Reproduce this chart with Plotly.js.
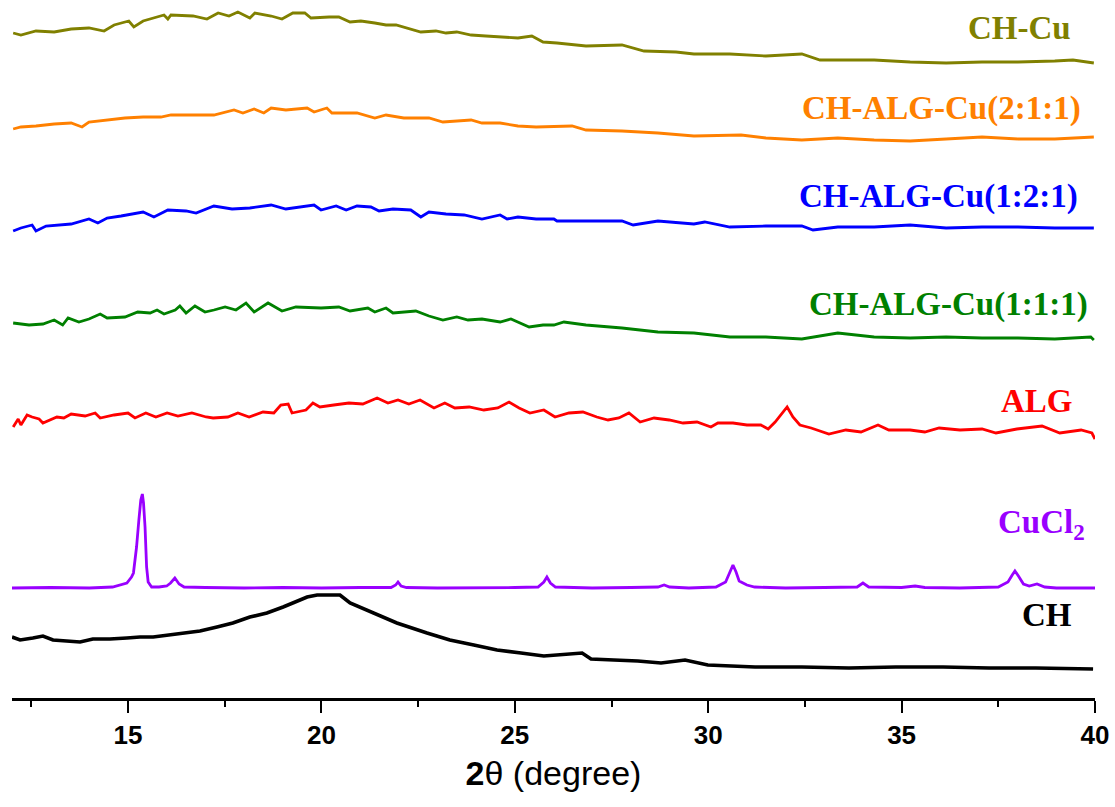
<!DOCTYPE html>
<html>
<head>
<meta charset="utf-8">
<script src="https://cdn.plot.ly/plotly-3.0.1.min.js"></script>
<style>html,body{margin:0;padding:0;background:#fff;}#chart{width:1115px;height:807px;}</style>
</head>
<body>
<div id="chart"></div>
<script>
// Stacked XRD patterns: 2θ (degree) vs. offset intensity (a.u.)
const seriesNames = ["CH-Cu", "CH-ALG-Cu(2:1:1)", "CH-ALG-Cu(1:2:1)", "CH-ALG-Cu(1:1:1)", "ALG", "CuCl<sub>2</sub>", "CH"];
const seriesColors = ["#808000", "#ff8000", "#0000ff", "#008000", "#ff0000", "#9900ff", "#000000"];

const chCu_x = [12.03,12.23,12.62,13.09,13.53,13.99,14.38,14.64,15.02,15.15,15.39,15.75,15.93,16.03,16.11,16.68,17.04,17.33,17.61,17.84,18.15,18.28,18.70,18.98,19.26,19.57,19.73,20.20,20.45,20.74,21.02,21.38,21.67,21.93,22.21,22.57,22.96,23.22,23.50,23.87,24.25,24.62,25.08,25.44,25.73,26.09,26.84,27.77,28.34,29.17,29.63,30.56,31.49,32.42,32.89,33.35,34.29,35.22,36.15,37.08,38.01,38.96,39.43,39.97];
const chCu_y = [665,663,667,666,669,670,667,673,677,671,677,681,683,679,683,682,679,685,682,686,680,685,682,679,685,685,680,681,681,676,677,675,673,673,670,666,667,665,666,663,662,661,660,662,656,655,652,653,647,646,644,644,642,644,638,638,638,636,635,636,636,637,638,635];

const c211_x = [12.03,12.23,12.62,13.09,13.53,13.81,13.99,14.46,14.92,15.39,15.85,16.11,16.76,17.22,17.74,17.97,18.26,18.51,18.70,19.08,19.63,19.81,20.14,20.27,20.92,21.38,21.67,22.13,22.78,23.14,23.87,24.15,24.62,25.08,25.55,26.09,26.48,26.84,27.77,28.70,29.63,30.85,31.49,32.42,33.35,34.29,35.22,36.15,37.08,38.01,38.96,39.97];
const c211_y = [569,571,572,574,575,571,576,578,580,581,581,583,583,583,588,585,589,585,590,588,590,586,590,585,585,580,583,580,580,576,578,575,575,572,571,572,572,568,567,565,562,563,560,558,560,558,557,559,561,559,559,561];

const c121_x = [12.03,12.23,12.52,12.62,12.88,13.53,13.99,14.22,14.46,14.82,15.39,15.67,16.03,16.50,16.76,17.22,17.69,18.15,18.70,19.08,19.81,19.99,20.38,20.64,20.92,21.28,21.49,21.85,22.31,22.57,22.78,23.22,23.69,24.15,24.62,24.80,25.08,25.55,26.01,26.09,26.84,27.77,28.06,28.70,29.63,29.91,30.56,31.49,32.42,32.71,33.35,34.29,35.22,36.15,37.08,38.01,38.96,39.97];
const c121_y = [467,470,473,467,472,474,479,475,480,482,486,481,488,487,485,492,489,490,493,489,493,488,492,488,492,491,487,489,488,481,486,484,483,479,483,479,481,479,479,477,477,477,473,477,474,476,471,472,472,468,471,471,473,470,471,471,470,470];

const c111_x = [12.03,12.44,12.80,13.09,13.31,13.45,13.73,13.99,14.28,14.46,14.92,15.25,15.57,15.75,15.93,16.22,16.34,16.50,16.73,16.99,17.22,17.51,17.79,18.05,18.26,18.62,18.98,19.34,19.99,20.45,20.74,21.20,21.38,21.67,21.85,22.44,22.78,23.14,23.50,23.79,24.15,24.62,24.90,25.37,25.73,26.01,26.27,26.84,27.77,28.70,29.63,30.56,31.49,32.42,33.35,34.29,35.22,36.15,37.08,38.01,38.96,39.89,39.97];
const c111_y = [375,373,374,378,373,380,376,379,384,380,381,386,385,388,384,388,392,385,392,386,388,391,388,395,386,395,387,391,390,391,387,390,386,390,385,387,382,378,381,378,379,376,379,371,373,373,376,373,370,366,365,361,361,359,365,361,360,361,360,360,359,361,358];

const alg_x = [12.03,12.16,12.23,12.39,12.52,12.70,12.80,12.98,13.16,13.34,13.53,13.89,14.15,14.28,14.64,15.00,15.18,15.46,15.72,16.01,16.29,16.65,17.02,17.20,17.58,17.84,18.13,18.49,18.77,18.95,19.14,19.24,19.60,19.78,19.96,20.32,20.71,21.07,21.44,21.72,21.98,22.26,22.55,22.91,23.19,23.45,23.82,24.20,24.56,24.85,25.11,25.39,25.75,26.04,26.40,26.76,27.12,27.41,27.69,27.95,28.24,28.60,28.99,29.35,29.71,30.07,30.25,30.64,31.00,31.36,31.55,31.73,31.91,32.04,32.19,32.37,32.66,33.12,33.56,33.95,34.39,34.67,35.22,35.60,35.97,36.51,37.08,37.44,37.98,38.63,39.09,39.64,39.92,40.00];
const alg_y = [271,279,273,283,281,279,275,278,281,280,284,282,285,280,283,285,280,285,281,285,282,285,281,280,281,285,281,286,285,293,294,285,288,295,291,293,295,294,300,295,298,294,298,290,295,290,291,288,290,296,290,285,288,281,285,286,281,278,280,285,276,280,278,275,276,271,275,275,273,273,269,276,285,291,281,273,270,264,268,266,273,268,268,266,270,268,269,265,269,272,265,268,265,259];

const cucl2_x = [12.0,13.0,14.0,14.6,14.97,15.09,15.14,15.22,15.28,15.33,15.37,15.40,15.44,15.48,15.52,15.61,15.8,16.0,16.1,16.21,16.32,16.45,17.0,18.0,19.0,20.0,21.0,21.8,21.92,21.98,22.06,22.2,23.0,24.0,25.0,25.6,25.75,25.83,25.92,26.05,27.0,28.0,28.7,28.86,29.0,29.5,30.2,30.45,30.56,30.64,30.72,30.8,30.9,31.0,31.2,32.0,33.0,33.85,34.0,34.15,35.0,35.35,35.6,36.5,37.5,37.75,37.86,37.93,38.02,38.15,38.3,38.5,38.7,39.0,40.0];
const cucl2_y = [110,110.5,110,111,115,121,125,151,178,198,204,195,171,131,116,111,111,112,115,120,114,111,110.5,110,110.5,110,110.5,110.5,113,116,112,110.5,110,110,110.5,111,116,121,115,111,110,110.5,111,113,111,110,111,116,126,133,126,117,115,113,111,110,110.5,111,115,111,110.5,112,110.5,110,111,116,123,127,122,114,112,114,111,110,110];

const ch_x = [12.00,12.21,12.54,12.80,13.06,13.42,13.76,14.09,14.53,14.97,15.31,15.65,16.01,16.42,16.86,17.30,17.71,18.15,18.59,19.01,19.26,19.63,19.89,20.22,20.48,20.74,21.18,21.59,21.95,22.73,23.32,23.94,24.54,25.16,25.75,26.74,26.97,27.56,28.18,28.78,29.40,29.99,31.21,32.42,33.64,34.85,36.07,37.26,38.47,39.95];
const ch_y = [61,58,60,62,58,57,56,59,59,60,61,61,63,65,67,71,75,81,85,91,95,101,103,103,103,95,88,81,75,65,58,53,48,45,42,45,39,38,37,35,38,33,31,31,30,31,31,30,30,29];

const tickValues = [15, 20, 25, 30, 35, 40];
const tickLabels = ["15", "20", "25", "30", "35", "40"];

const xs = [chCu_x, c211_x, c121_x, c111_x, alg_x, cucl2_x, ch_x];
const ys = [chCu_y, c211_y, c121_y, c111_y, alg_y, cucl2_y, ch_y];
const widths = [2.8, 2.8, 2.8, 2.8, 2.8, 2.8, 3.6];

const traces = xs.map((x, i) => ({
  x: x, y: ys[i], type: 'scatter', mode: 'lines', name: seriesNames[i],
  line: {color: seriesColors[i], width: widths[i], shape: 'linear'},
  hoverinfo: 'skip'
}));

// label placements (paper coords)
const labelPos = [
  [0.980, 0.960], [0.989, 0.844], [0.986, 0.718], [0.995, 0.564],
  [0.9815, 0.4255], [0.9926, 0.249], [0.9806, 0.119]
];
const annotations = seriesNames.map((n, i) => ({
  text: '<b>' + n + '</b>', xref: 'paper', yref: 'paper',
  x: labelPos[i][0], y: labelPos[i][1], xanchor: 'right', yanchor: 'middle',
  showarrow: false,
  font: {family: 'Liberation Serif, Times New Roman, serif', size: 33, color: seriesColors[i]}
}));

const layout = {
  width: 1115, height: 807,
  margin: {l: 12, r: 20, t: 0, b: 109},
  paper_bgcolor: '#fff', plot_bgcolor: '#fff',
  showlegend: false,
  xaxis: {
    range: [12, 40], showgrid: false, zeroline: false,
    showline: true, linecolor: '#000', linewidth: 2.5,
    ticks: 'outside', ticklen: 12, tickwidth: 2, tickcolor: '#000',
    tickmode: 'array', tickvals: tickValues, ticktext: tickLabels,
    tickfont: {family: 'Liberation Sans, Arial, sans-serif', size: 26, color: '#000', weight: 'bold'},
    minor: {dtick: 2.5, tick0: 0, ticks: 'outside', ticklen: 6, tickwidth: 2, tickcolor: '#000', showgrid: false},
    title: {text: '<b>2</b>θ (degree)', font: {family: 'Liberation Sans, Arial, sans-serif', size: 34, color: '#000'}, standoff: 13}
  },
  yaxis: {range: [0, 698], visible: false, showgrid: false, zeroline: false},
  annotations: annotations
};

Plotly.newPlot('chart', traces, layout, {displayModeBar: false, staticPlot: true});
</script>
</body>
</html>
